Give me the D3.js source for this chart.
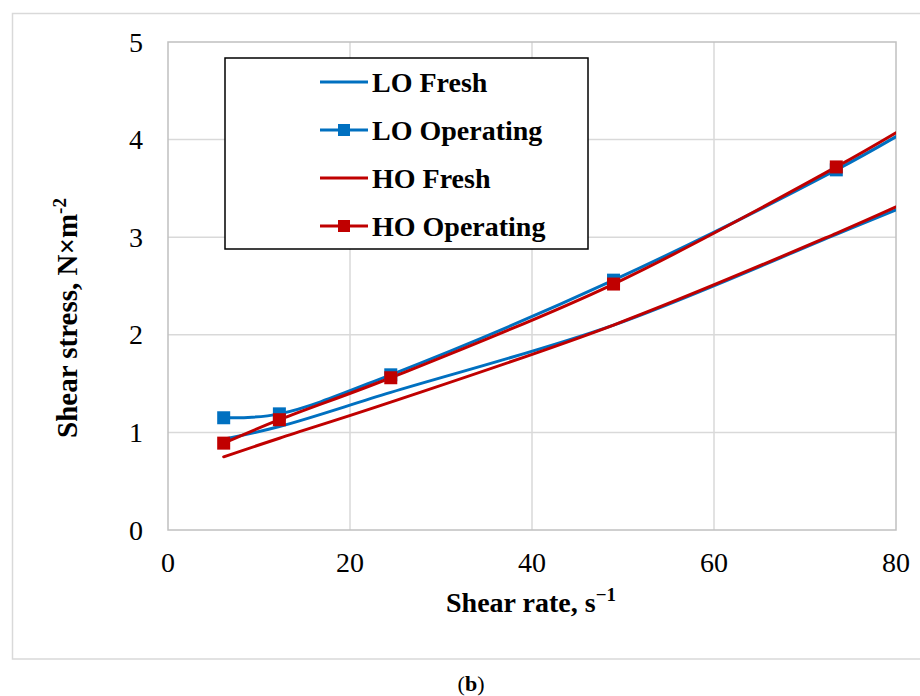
<!DOCTYPE html>
<html lang="en">
<head>
  <meta charset="UTF-8">
  <title>Shear stress vs shear rate</title>
  <script src="https://cdnjs.cloudflare.com/ajax/libs/d3/7.8.5/d3.min.js"></script>
  <style>
    body { margin: 0; background: #fff; }
    svg { display: block; font-family: "Liberation Serif", "Times New Roman", serif; }
  </style>
</head>
<body>
  <svg id="chart" width="920" height="696"></svg>
  <script>
    // shear rate (s^-1) of each reading
    const shearRate = [6.12, 12.24, 24.48, 48.96, 73.44, 80];
    // shear stress (N x m^-2) per oil
    const loFresh = [0.93, 1.06, 1.41, 2.10, 3.03, 3.28];
    const loOperating = [1.15, 1.19, 1.59, 2.56, 3.69, 4.03];
    const hoFresh = [0.75, 0.94, 1.31, 2.10, 3.04, 3.31];
    const hoOperating = [0.89, 1.13, 1.56, 2.52, 3.72, 4.07];
    const xTicks = [0, 20, 40, 60, 80];
    const yTicks = [0, 1, 2, 3, 4, 5];

    const seriesList = [
      { name: 'LO Fresh', values: loFresh, color: '#0070C0', marker: false },
      { name: 'LO Operating', values: loOperating, color: '#0070C0', marker: true },
      { name: 'HO Fresh', values: hoFresh, color: '#C00000', marker: false },
      { name: 'HO Operating', values: hoOperating, color: '#C00000', marker: true }
    ];

    const svg = d3.select('#chart');
    const pLeft = 168, pRight = 896, pTop = 42, pBottom = 530;

    const x = d3.scaleLinear().domain([0, 80]).range([pLeft, pRight]);
    const y = d3.scaleLinear().domain([0, 5]).range([pBottom, pTop]);

    // outer frame
    svg.append('rect')
      .attr('x', 12.5).attr('y', 13.5)
      .attr('width', 920).attr('height', 645.5)
      .style('fill', 'none').style('stroke', '#d9d9d9').style('stroke-width', 1.5);

    // grid
    svg.append('g')
      .selectAll('line')
      .data(yTicks.slice(1, -1))
      .enter().append('line')
      .attr('x1', pLeft).attr('x2', pRight)
      .attr('y1', d => y(d)).attr('y2', d => y(d))
      .style('stroke', '#d9d9d9').style('stroke-width', 1.5);
    svg.append('g')
      .selectAll('line')
      .data(xTicks.slice(1, -1))
      .enter().append('line')
      .attr('x1', d => x(d)).attr('x2', d => x(d))
      .attr('y1', pTop).attr('y2', pBottom)
      .style('stroke', '#d9d9d9').style('stroke-width', 1.5);

    // plot border
    svg.append('rect')
      .attr('x', pLeft).attr('y', pTop)
      .attr('width', pRight - pLeft).attr('height', pBottom - pTop)
      .style('fill', 'none').style('stroke', '#c0c0c0').style('stroke-width', 1.5);

    // tick labels
    svg.append('g')
      .selectAll('text')
      .data(yTicks)
      .enter().append('text')
      .attr('x', 143)
      .attr('y', d => y(d))
      .attr('dy', '0.34em')
      .attr('text-anchor', 'end')
      .style('font-size', '28px')
      .text(d => d);
    svg.append('g')
      .selectAll('text')
      .data(xTicks)
      .enter().append('text')
      .attr('x', d => x(d))
      .attr('y', 572)
      .attr('text-anchor', 'middle')
      .style('font-size', '28px')
      .text(d => d);

    // axis titles
    const xt = svg.append('text')
      .attr('x', 531).attr('y', 612)
      .attr('text-anchor', 'middle')
      .style('font-size', '28px').style('font-weight', 'bold');
    xt.append('tspan').text('Shear rate, s');
    xt.append('tspan').attr('dy', -11).style('font-size', '19px').text('\u22121');

    const yt = svg.append('text')
      .attr('transform', 'translate(77,318) rotate(-90)')
      .attr('text-anchor', 'middle')
      .style('font-size', '29px').style('font-weight', 'bold');
    yt.append('tspan').text('Shear stress, N\u00d7m');
    yt.append('tspan').attr('dy', -11).style('font-size', '19px').text('-2');

    // series
    svg.append('clipPath').attr('id', 'clip')
      .append('rect')
      .attr('x', pLeft).attr('y', pTop - 6)
      .attr('width', pRight - pLeft).attr('height', pBottom - pTop + 6);

    const line = d3.line()
      .x((d, i) => x(shearRate[i]))
      .y(d => y(d))
      .curve(d3.curveCatmullRom.alpha(0.5));

    const plot = svg.append('g').attr('clip-path', 'url(#clip)');
    seriesList.forEach(s => {
      plot.append('path')
        .attr('d', line(s.values))
        .style('fill', 'none')
        .style('stroke', s.color)
        .style('stroke-width', 3)
        .style('stroke-linecap', 'round');
      if (s.marker) {
        svg.append('g')
          .selectAll('rect')
          .data(s.values.slice(0, 5))
          .enter().append('rect')
          .attr('x', (d, i) => x(shearRate[i]) - 6.5)
          .attr('y', d => y(d) - 6.5)
          .attr('width', 13).attr('height', 13)
          .style('fill', s.color);
      }
    });

    // legend
    svg.append('rect')
      .attr('x', 225).attr('y', 58)
      .attr('width', 363).attr('height', 191)
      .style('fill', '#fff').style('stroke', '#000').style('stroke-width', 1.5);

    const legend = svg.append('g')
      .selectAll('g')
      .data(seriesList)
      .enter().append('g')
      .attr('transform', (d, i) => `translate(0,${82 + i * 48})`);
    legend.append('line')
      .attr('x1', 320).attr('x2', 368)
      .style('stroke', d => d.color).style('stroke-width', 3);
    legend.filter(d => d.marker).append('rect')
      .attr('x', 338).attr('y', -6)
      .attr('width', 12).attr('height', 12)
      .style('fill', d => d.color);
    legend.append('text')
      .attr('x', 372).attr('dy', '0.34em')
      .style('font-size', '28px').style('font-weight', 'bold')
      .text(d => d.name);

    // caption
    const cap = svg.append('text')
      .attr('x', 471).attr('y', 691)
      .attr('text-anchor', 'middle')
      .style('font-size', '22px');
    cap.append('tspan').text('(');
    cap.append('tspan').style('font-weight', 'bold').text('b');
    cap.append('tspan').text(')');
  </script>
</body>
</html>
